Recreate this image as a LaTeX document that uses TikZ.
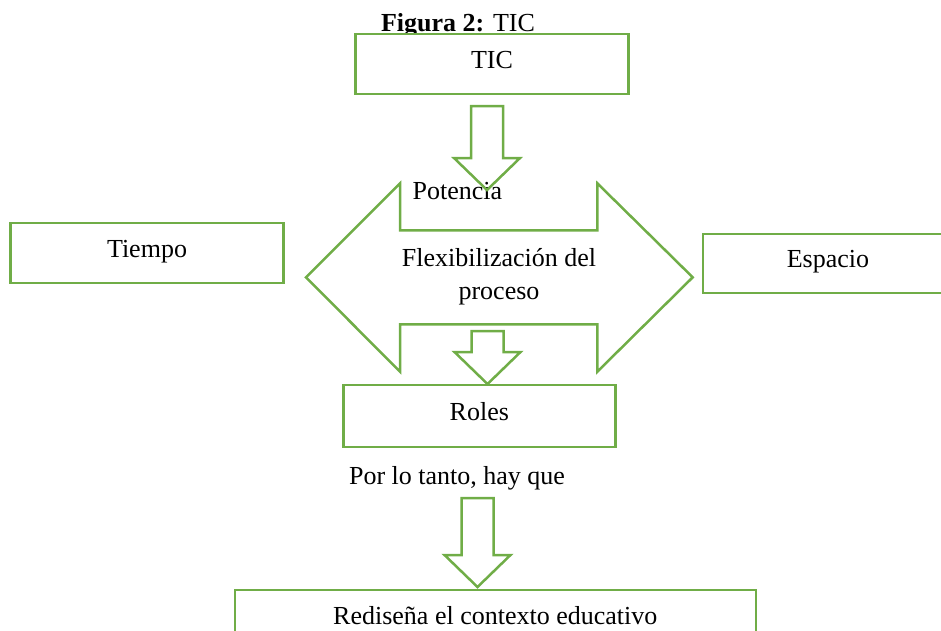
\documentclass[tikz,border=0pt]{standalone}
\usepackage{fontspec}
\setmainfont{Liberation Serif}
\definecolor{ticgreen}{HTML}{70AD47}
% hollow block arrow pointing down: centre x, top y, tip y
\newcommand{\downblock}[3]{%
  \draw[blockarrow] (#1-16,#2) -- (#1+16,#2) -- (#1+16,#3-32) -- (#1+33,#3-32)
    -- (#1,#3) -- (#1-33,#3-32) -- (#1-16,#3-32) -- cycle;}

\begin{document}
\begin{tikzpicture}[x=1pt,y=-1pt,
    font=\fontsize{26}{33}\selectfont,
    box/.style={rectangle, draw=ticgreen, line width=2.5pt, fill=white, inner sep=0pt,
      text height=0.9em, text depth=0.1em, minimum height=60pt, minimum width=#1},
    box/.default=273pt,
    blockarrow/.style={draw=ticgreen, line width=2.5pt}]
  \useasboundingbox (0,0) rectangle (941,630);

  \node[anchor=base] (title) at (458,31) {\textbf{Figura 2:} TIC};
  \node[box] (tic) at (492,64) {TIC};
  \node[box] (tiempo) at (147,253) {Tiempo};
  \node[box=250pt, minimum height=59pt] (espacio) at (828,263.5) {Espacio};
  \node[box=272pt, minimum height=62pt] (roles) at (479.3,416) {Roles};
  \node[box=521pt] (redisena) at (495.3,620) {Rediseña el contexto educativo};

  % double arrow in the middle
  \draw[blockarrow] (306,277.3) -- (400,183.3) -- (400,230.3) -- (597.3,230.3)
    -- (597.3,183.3) -- (692.7,277.3) -- (597.3,371.7) -- (597.3,324.3)
    -- (400,324.3) -- (400,371.7) -- cycle;
  \node[align=center] (flex) at (499,276.5) {Flexibilización del\\proceso};
  \node[anchor=base] (potencia) at (457.4,199.3) {Potencia};
  \node[anchor=base] (portanto) at (457,484) {Por lo tanto, hay que};

  \downblock{487}{106}{190}
  \downblock{487.5}{331}{384}
  \downblock{477.5}{498}{587}
\end{tikzpicture}
\end{document}
